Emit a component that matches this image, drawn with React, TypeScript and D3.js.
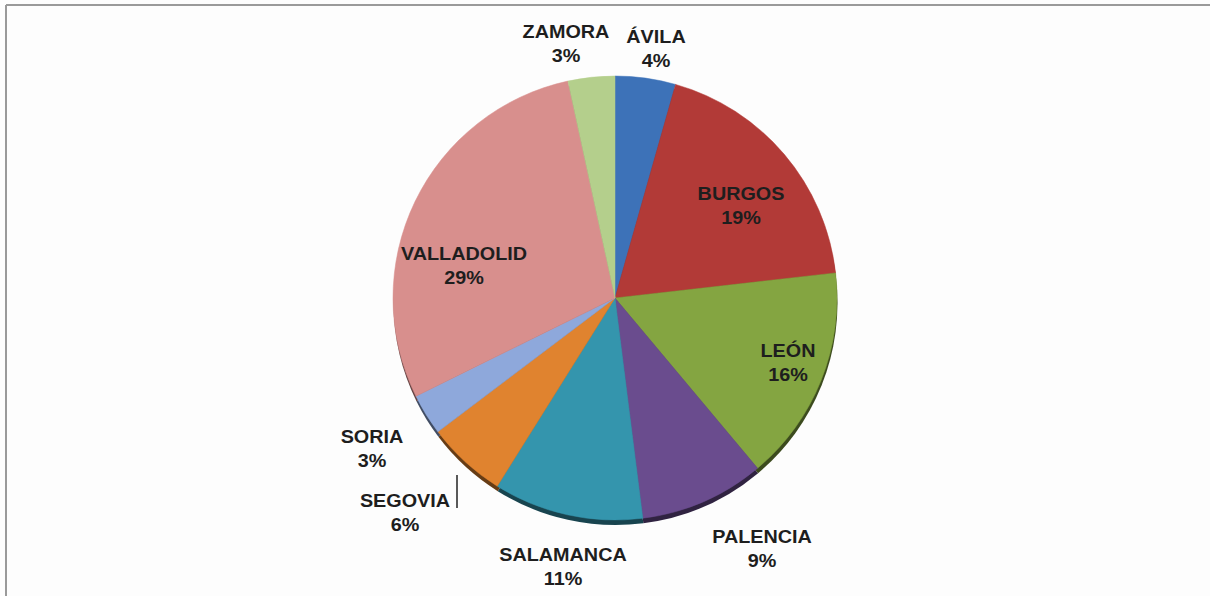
import React from "react";
import * as d3 from "d3";

// provinces, clockwise from 12 o'clock
const provinces = ["ÁVILA", "BURGOS", "LEÓN", "PALENCIA", "SALAMANCA", "SEGOVIA", "SORIA", "VALLADOLID", "ZAMORA"];
const shares = [4.4, 18.8, 15.7, 9.1, 10.9, 5.8, 3.0, 28.9, 3.4];
const colors = ["#3d72b8", "#b23a37", "#84a541", "#6a4c8e", "#3495ad", "#e0832f", "#8ea8db", "#d88f8d", "#b4cf8c"];

// label anchor (centre of the name line), Excel "best fit" style placement
const labelPos: [number, number][] = [
  [656, 36], [741, 193], [788, 350], [762, 536], [563, 554],
  [405, 500], [372, 436], [464, 253], [566, 31],
];

const W = 1210;
const H = 596;
const cx = 615;
const cy = 298;
const R = 222;

export default function App() {
  const pie = d3.pie<number>().value((d) => d).sort(null);
  const arcs = pie(shares);
  const arc = d3.arc<d3.PieArcDatum<number>>().innerRadius(0).outerRadius(R);

  return (
    <svg
      width={W}
      height={H}
      style={{ position: "absolute", left: 0, top: 0, background: "#fdfdfd" }}
      fontFamily="'Liberation Sans', Arial, sans-serif"
    >
      {/* frame */}
      <line x1={6} y1={5} x2={W} y2={5} stroke="#9a9a9a" strokeWidth={2} />
      <line x1={6} y1={5} x2={6} y2={H} stroke="#9a9a9a" strokeWidth={2} />

      <g transform={`translate(${cx},${cy})`}>
        {/* 3D side */}
        <g transform="translate(0.5,5)">
          {arcs.map((a, i) => (
            <path key={"s" + i} d={arc(a) || ""} fill={d3.color(colors[i])!.darker(2.2).toString()} />
          ))}
        </g>
        {arcs.map((a, i) => (
          <path key={i} d={arc(a) || ""} fill={colors[i]} stroke={colors[i]} strokeWidth={0.5} />
        ))}
      </g>

      {/* leader line for SEGOVIA */}
      <line x1={457} y1={475} x2={457} y2={508} stroke="#222" strokeWidth={1.5} />

      {arcs.map((a, i) => {
        const [x, y] = labelPos[i];
        return (
          <g key={"t" + i} transform={`translate(${x},${y}) scale(1.1,1)`}>
            <text textAnchor="middle" fontWeight="bold" fontSize={18} fill="#1e1e1e">
              <tspan x={0} y={6.5}>{provinces[i]}</tspan>
              <tspan x={0} y={31.5}>{Math.round(a.data) + "%"}</tspan>
            </text>
          </g>
        );
      })}
    </svg>
  );
}
